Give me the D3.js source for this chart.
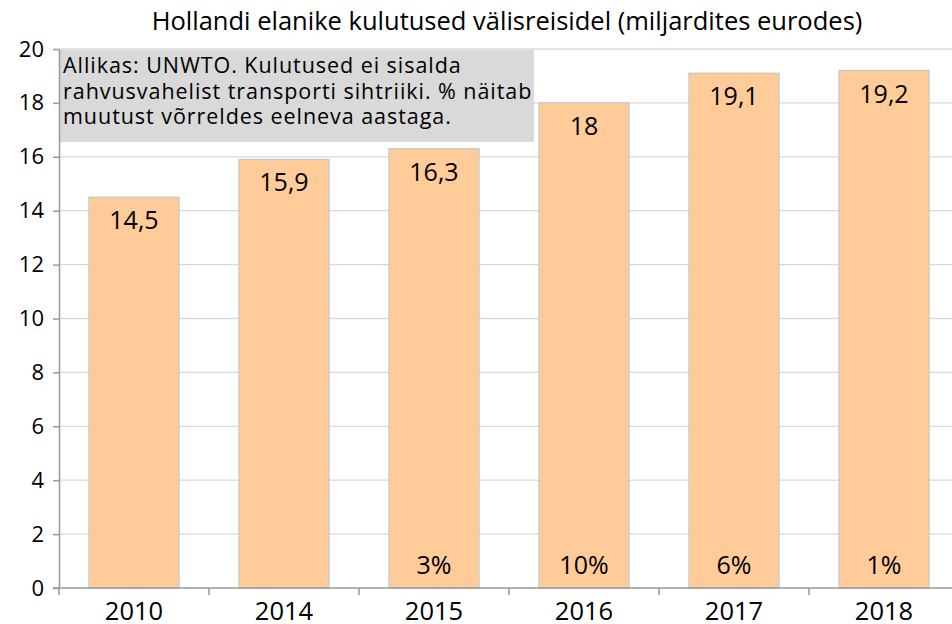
<!DOCTYPE html>
<html lang="et">
<head>
<meta charset="UTF-8">
<title>Hollandi elanike kulutused</title>
<script src="https://cdn.jsdelivr.net/npm/d3@7"></script>
<style>
    body { margin: 0; background: #fff; }
    svg { font-family: "Open Sans", sans-serif; }
</style>
</head>
<body>
<div id="chart"></div>
<script>
// data
var years = ["2010", "2014", "2015", "2016", "2017", "2018"]
var spending = [14.5, 15.9, 16.3, 18, 19.1, 19.2]
var change = ["", "", "3%", "10%", "6%", "1%"]
var yTicks = [0, 2, 4, 6, 8, 10, 12, 14, 16, 18, 20]
var title = "Hollandi elanike kulutused välisreisidel (miljardites eurodes)"
var note = ["Allikas: UNWTO. Kulutused ei sisalda",
            "rahvusvahelist transporti sihtriiki. % näitab",
            "muutust võrreldes eelneva aastaga."]

var width = 952, height = 624
var mLeft = 59, mTop = 49, mBottom = 588

var svg = d3.select("#chart").append("svg")
    .attr("width", width).attr("height", height)

var x = d3.scaleBand().domain(years).range([mLeft, mLeft + 900])
    .paddingInner(0.4).paddingOuter(0.2)
var y = d3.scaleLinear().domain([0, 20]).range([mBottom, mTop])

// gridlines
svg.append("g").selectAll("line").data(yTicks.slice(1)).enter().append("line")
    .attr("x1", mLeft).attr("x2", width)
    .attr("y1", d => y(d)).attr("y2", d => y(d))
    .attr("stroke", "#d9d9d9").attr("stroke-width", 1.3)

// note box
var noteG = svg.append("g")
noteG.append("rect").attr("x", mLeft + 1).attr("y", mTop + 1)
    .attr("width", 474).attr("height", 92).attr("fill", "#d9d9d9")
noteG.selectAll("text").data(note).enter().append("text")
    .attr("x", 63).attr("y", (d, i) => 73 + i * 25.5)
    .attr("font-size", 21.5).attr("letter-spacing", 0.95).attr("fill", "#000")
    .text(d => d)

// bars
var bars = svg.append("g").selectAll("g").data(years).enter().append("g")
bars.append("rect")
    .attr("x", d => x(d)).attr("width", x.bandwidth())
    .attr("y", (d, i) => y(spending[i]))
    .attr("height", (d, i) => y(0) - y(spending[i]))
    .attr("fill", "#ffcc99").attr("stroke", "#c8c8c8").attr("stroke-width", 1.3)

bars.append("text")
    .attr("x", d => x(d) + x.bandwidth() / 2)
    .attr("y", (d, i) => y(spending[i]) + 32)
    .attr("text-anchor", "middle").attr("font-size", 25)
    .text((d, i) => String(spending[i]).replace(".", ","))

bars.append("text")
    .attr("x", d => x(d) + x.bandwidth() / 2)
    .attr("y", y(0) - 14)
    .attr("text-anchor", "middle").attr("font-size", 25)
    .text((d, i) => change[i])

// axes
var yAxis = svg.append("g").attr("transform", `translate(${mLeft},0)`)
    .call(d3.axisLeft(y).tickValues(yTicks).tickSize(6).tickPadding(9).tickSizeOuter(0))
yAxis.select(".domain").attr("stroke", "#999").attr("stroke-width", 1.5)
yAxis.selectAll(".tick line").attr("stroke", "#999").attr("stroke-width", 1.5)
yAxis.selectAll("text").attr("font-size", 22).attr("fill", "#000")
    .attr("font-family", "'Open Sans', sans-serif")

var xAxis = svg.append("g").attr("transform", `translate(0,${mBottom})`)
xAxis.append("line").attr("x1", mLeft - 6).attr("x2", width)
    .attr("stroke", "#999").attr("stroke-width", 1.5)
xAxis.selectAll("line.tk").data(d3.range(years.length + 1)).enter().append("line")
    .attr("class", "tk")
    .attr("x1", i => mLeft + i * x.step()).attr("x2", i => mLeft + i * x.step())
    .attr("y1", 0).attr("y2", 7)
    .attr("stroke", "#999").attr("stroke-width", 1.5)
xAxis.selectAll("text").data(years).enter().append("text")
    .attr("x", d => x(d) + x.bandwidth() / 2).attr("y", 32)
    .attr("text-anchor", "middle").attr("font-size", 25.5)
    .text(d => d)

// title
svg.append("text").attr("x", 507).attr("y", 30)
    .attr("text-anchor", "middle").attr("font-size", 25.5)
    .text(title)
</script>
</body>
</html>
